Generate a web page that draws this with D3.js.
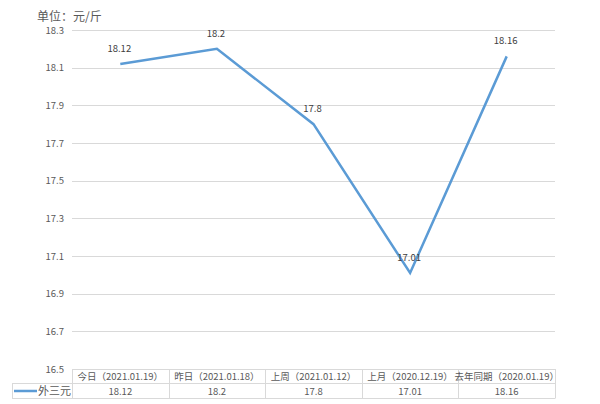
<!DOCTYPE html>
<html><head><meta charset="utf-8">
<script src="https://cdn.jsdelivr.net/npm/d3@7"></script>
<style>body{margin:0;background:#fff;}svg{display:block;font-family:"Noto Sans CJK SC","Noto Sans",sans-serif;}</style>
</head><body>
<svg id="c" width="600" height="404"></svg>
<script>
const categories = ["今日（2021.01.19）","昨日（2021.01.18）","上周（2021.01.12）","上月（2020.12.19）","去年同期（2020.01.19）"];
const seriesName = "外三元";
const values = [18.12, 18.2, 17.8, 17.01, 18.16];
const valueLabels = ["18.12","18.2","17.8","17.01","18.16"];
const yTicks = [16.5,16.7,16.9,17.1,17.3,17.5,17.7,17.9,18.1,18.3];
const unitLabel = "单位：元/斤";

(function(){
const svg = d3.select("#c");
const pL = 72, pR = 555, pT = 30, pB = 369;
const x = d3.scaleBand().domain(categories).range([pL, pR]);
const y = d3.scaleLinear().domain([16.5, 18.3]).range([pB, pT]);
const textColor = "#595959", gridColor = "#d9d9d9", lineColor = "#5b9bd5";

svg.append("text").attr("x", 37).attr("y", 21).attr("font-size", 12).attr("fill", textColor).text(unitLabel);

// gridlines
svg.append("g").selectAll("line").data(yTicks).join("line")
  .attr("x1", pL).attr("x2", pR)
  .attr("y1", d => Math.round(y(d)) + 0.5).attr("y2", d => Math.round(y(d)) + 0.5)
  .attr("stroke", gridColor).attr("stroke-width", 1);

// y axis labels
svg.append("g").selectAll("text").data(yTicks).join("text")
  .attr("x", 64).attr("y", d => y(d) + 3.5).attr("text-anchor", "end")
  .attr("font-size", 9.5).attr("fill", textColor).text(d => d.toFixed(1));

// line
const line = d3.line().x((d, i) => x(categories[i]) + x.bandwidth() / 2).y(d => y(d));
svg.append("path").datum(values).attr("d", line).attr("fill", "none")
  .attr("stroke", lineColor).attr("stroke-width", 2.5).attr("stroke-linejoin", "miter");

// data labels
svg.append("g").selectAll("text").data(values).join("text")
  .attr("x", (d, i) => x(categories[i]) + x.bandwidth() / 2 - 1)
  .attr("y", d => y(d) - 12)
  .attr("text-anchor", "middle").attr("font-size", 9.5).attr("fill", "#404040")
  .text((d, i) => valueLabels[i]);

// data table
const rowTop = pB, rowMid = 383.5, rowBot = 398.5;
const t = svg.append("g").attr("stroke", gridColor).attr("stroke-width", 1);
t.append("line").attr("x1", 12).attr("x2", pR).attr("y1", rowMid).attr("y2", rowMid);
t.append("line").attr("x1", 12).attr("x2", pR).attr("y1", rowBot).attr("y2", rowBot);
t.append("line").attr("x1", 12.5).attr("x2", 12.5).attr("y1", rowMid).attr("y2", rowBot);
const edges = categories.map(c => x(c)).concat([pR]);
t.selectAll("line.v").data(edges).join("line").attr("class", "v")
  .attr("x1", d => Math.round(d) + 0.5).attr("x2", d => Math.round(d) + 0.5)
  .attr("y1", rowTop).attr("y2", rowBot);

svg.append("g").selectAll("text").data(categories).join("text")
  .attr("x", d => x(d) + x.bandwidth() / 2).attr("y", 380)
  .attr("text-anchor", "middle").attr("font-size", 9.5).attr("fill", textColor).text(d => d);
svg.append("g").selectAll("text").data(values).join("text")
  .attr("x", (d, i) => x(categories[i]) + x.bandwidth() / 2).attr("y", 395)
  .attr("text-anchor", "middle").attr("font-size", 9.5).attr("fill", textColor).text((d, i) => valueLabels[i]);

// legend key
svg.append("line").attr("x1", 14).attr("x2", 37).attr("y1", 391).attr("y2", 391)
  .attr("stroke", lineColor).attr("stroke-width", 2.5);
svg.append("text").attr("x", 38).attr("y", 395).attr("font-size", 11).attr("fill", textColor).text(seriesName);
})();
</script>
</body></html>
